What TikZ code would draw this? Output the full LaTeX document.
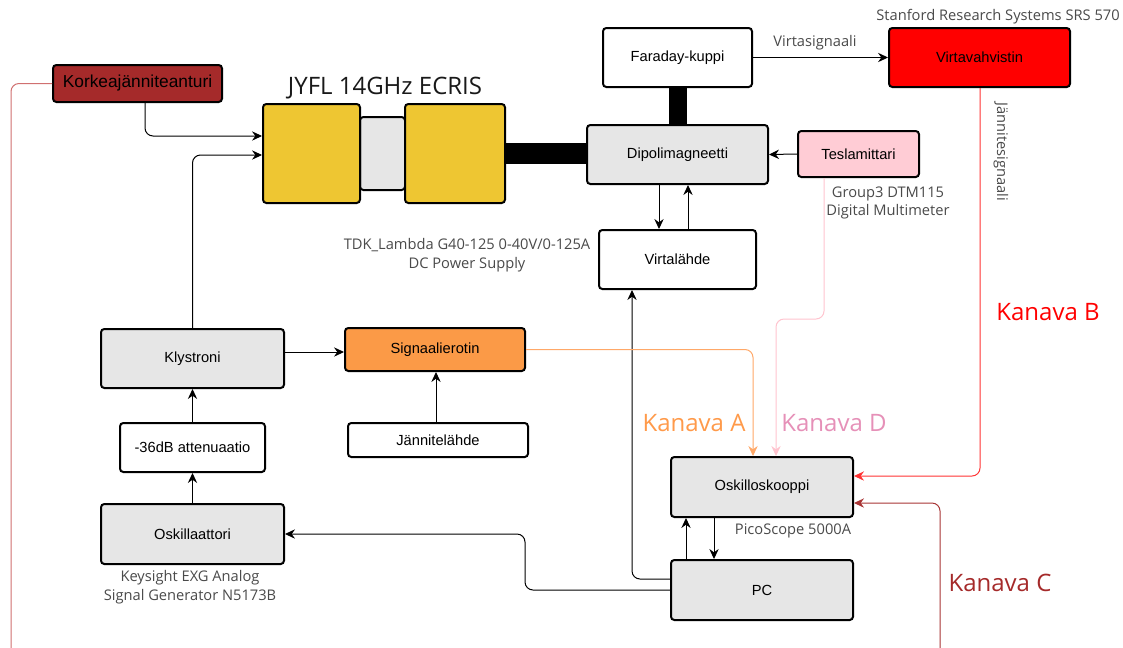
\documentclass[tikz,border=0pt]{standalone}
\usepackage{fontspec}
\setmainfont{Liberation Sans}
\newfontfamily\osans{Open Sans}
\usetikzlibrary{calc,arrows.meta}
\definecolor{korkeafill}{HTML}{A52A2A}
\definecolor{ecrisyellow}{HTML}{EEC632}
\definecolor{boxgrey}{HTML}{E6E6E6}
\definecolor{teslapink}{HTML}{FFCCD5}
\definecolor{sigorange}{HTML}{FB9A47}
\definecolor{vvred}{HTML}{FF0000}
\definecolor{anngray}{HTML}{4A4A4A}
\definecolor{lineA}{HTML}{FFA868}
\definecolor{textA}{HTML}{FF9A4A}
\definecolor{lineD}{HTML}{FFC4CF}
\definecolor{textD}{HTML}{E690B8}
\definecolor{lineB}{HTML}{FF3333}
\definecolor{textB}{HTML}{FF0000}
\definecolor{lineC}{HTML}{A83535}
\definecolor{textC}{HTML}{A52A2A}
\definecolor{leftred}{HTML}{D07070}
\begin{document}
\begin{tikzpicture}[x=0.75pt,y=-0.75pt,
  box/.style={draw=black,line width=1.5pt,rounded corners=2.5pt,inner sep=0pt,
    font=\fontsize{11}{13}\selectfont,align=center},
  arr/.style={-{Stealth[length=7.5pt,width=7pt,inset=2.5pt]},line width=0.75pt,rounded corners=6pt},
  ann/.style={font=\osans\fontsize{11}{14}\selectfont,text=anngray,align=center},
  kan/.style={font=\osans\fontsize{18}{22}\selectfont},
  bar/.style={line width=#1,draw=black}]
\clip (0,0) rectangle (1123,647);
\fill[white] (0,0) rectangle (1123,647);

% boxes
\node[box,fill=korkeafill,minimum width=126.75pt,minimum height=27.75pt,font=\fontsize{13}{15}\selectfont] (korkea) at (137.5,83.5) {Korkeajänniteanturi};
\node[box,fill=boxgrey,minimum width=33.75pt,minimum height=54.75pt] (ecrisM) at (382.5,153.5) {};
\node[box,fill=ecrisyellow,minimum width=72.75pt,minimum height=74.25pt] (ecrisL) at (311.5,153.5) {};
\node[box,fill=ecrisyellow,minimum width=75pt,minimum height=74.25pt] (ecrisR) at (455,153.5) {};
\node[box,fill=boxgrey,minimum width=135.75pt,minimum height=44.25pt] (dipoli) at (677.5,154.5) {Dipolimagneetti};
\node[box,fill=white,minimum width=111.75pt,minimum height=44.25pt] (faraday) at (677.5,57.5) {Faraday-kuppi};
\node[box,fill=vvred,minimum width=135.75pt,minimum height=44.25pt] (virtavahv) at (979.5,57.5) {Virtavahvistin};
\node[box,fill=teslapink,minimum width=90.75pt,minimum height=34.5pt] (tesla) at (858.5,154) {Teslamittari};
\node[box,fill=white,minimum width=117.75pt,minimum height=44.25pt] (virtalahde) at (677.5,259.5) {Virtalähde};
\node[box,fill=boxgrey,minimum width=137.25pt,minimum height=44.25pt] (klystroni) at (192.5,358.5) {Klystroni};
\node[box,fill=white,minimum width=108.75pt,minimum height=36.75pt] (att) at (192.5,447.5) {-36dB attenuaatio};
\node[box,fill=boxgrey,minimum width=137.25pt,minimum height=45pt] (osc) at (192.5,534) {Oskillaattori};
\node[box,fill=sigorange,minimum width=135pt,minimum height=32.25pt] (signaali) at (435,349.5) {Signaalierotin};
\node[box,fill=white,minimum width=135pt,minimum height=25.5pt] (jannite) at (438,440) {Jännitelähde};
\node[box,fill=boxgrey,minimum width=136.5pt,minimum height=45pt] (osk) at (762,487) {Oskilloskooppi};
\node[box,fill=boxgrey,minimum width=136.5pt,minimum height=45pt] (pc) at (762,590) {PC};

% thick mechanical connections
\draw[bar=15.75pt] (ecrisR.east) -- (ecrisR.east -| dipoli.west);
\draw[bar=13.5pt] (faraday.south) -- (dipoli.north);

% labels
\node[font=\osans\fontsize{18}{22}\selectfont,text=black!90] (title) at (385,88) {JYFL 14GHz ECRIS};
\node[ann] (stanford) at (998,17) {Stanford Research Systems SRS 570};
\node[ann] (virtasig) at (815,43) {Virtasignaali};
\node[ann,rotate=-90] (jannitesig) at (1001,152) {Jännitesignaali};
\node[ann] (group3) at (888,203) {Group3 DTM115\\Digital Multimeter};
\node[ann] (tdk) at (467,255) {TDK\_Lambda G40-125 0-40V/0-125A\\DC Power Supply};
\node[ann] (keysight) at (190,587) {Keysight EXG Analog\\Signal Generator N5173B};
\node[ann] (pico) at (793,531) {PicoScope 5000A};
\node[kan,text=textA] (kanA) at (694,423) {Kanava A};
\node[kan,text=textD] (kanD) at (834,423) {Kanava D};
\node[kan,text=textB] (kanB) at (1048,312) {Kanava B};
\node[kan,text=textC] (kanC) at (1000,583) {Kanava C};

% connectors
\draw[arr] ($(korkea.south)+(7.5,0)$) |- ($(ecrisL.west)+(0,-17.5)$);
\draw[arr] (klystroni.north) |- ($(ecrisL.west)+(0,1.5)$);
\draw[arr] (att.north) -- (klystroni.south);
\draw[arr] (osc.north) -- (att.south);
\draw[arr] (klystroni.east |- 0,352) -- (signaali.west |- 0,352);
\draw[arr] (jannite.north -| 436,0) -- (signaali.south -| 436,0);
\draw[arr] (faraday.east) -- (virtavahv.west);
\draw[arr] (tesla.west) -- (dipoli.east);
\draw[arr] ($(dipoli.south)+(-18.5,0)$) -- ($(virtalahde.north)+(-18.5,0)$);
\draw[arr] ($(virtalahde.north)+(10.5,0)$) -- ($(dipoli.south)+(10.5,0)$);
\draw[arr] ($(pc.west)+(0,-11)$) -| ($(virtalahde.south)+(-45.5,0)$);
\draw[arr] (pc.west) -- ++(-145,0) |- (osc.east);
\draw[arr] ($(pc.north)+(-76,0)$) -- ($(osk.south)+(-76,0)$);
\draw[arr] ($(osk.south)+(-48,0)$) -- ($(pc.north)+(-48,0)$);

% channel lines
\draw[arr,draw=lineA,color=lineA] (signaali.east) -| ($(osk.north)+(-9,0)$);
\draw[arr,draw=lineD,color=lineD] ($(tesla.south)+(-34.5,0)$) -- ++(0,141) -| ($(osk.north)+(14,0)$);
\draw[arr,draw=lineB,color=lineB] ($(virtavahv.south)+(0.5,0)$) |- ($(osk.east)+(0,-11)$);
\coordinate (cbot) at (940,660);
\draw[arr,draw=lineC,color=lineC] (cbot) |- ($(osk.east)+(0,16)$);
\coordinate (lbot) at (11,660);
\draw[line width=0.75pt,draw=leftred,rounded corners=6pt] (korkea.west) -| (lbot);
\end{tikzpicture}
\end{document}
